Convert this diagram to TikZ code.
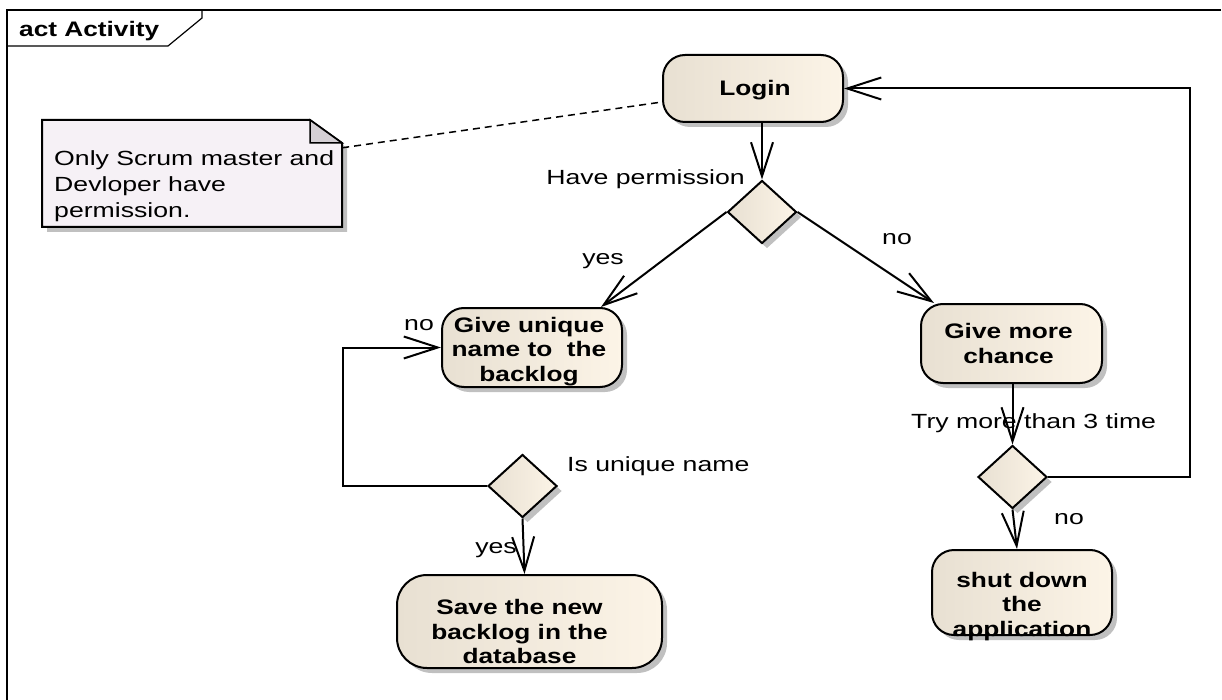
\documentclass[tikz,border=0pt]{standalone}
\usepackage{fontspec}
\setmainfont{Liberation Sans}
\newfontfamily\wfont[FakeStretch=1.25]{Liberation Sans}
\newfontfamily\lfont[FakeStretch=1.3]{Liberation Sans}
\usetikzlibrary{shapes.geometric,shadows,arrows.meta,calc}
\definecolor{gl}{RGB}{232,224,210}
\definecolor{gr}{RGB}{252,244,231}
\definecolor{shc}{RGB}{192,192,192}
\definecolor{notec}{RGB}{246,241,246}
\definecolor{foldc}{RGB}{212,207,212}
\begin{document}
\begin{tikzpicture}[x=1pt,y=-1pt,
  shad/.style={drop shadow={shadow xshift=5pt,shadow yshift=-5pt,fill=shc,opacity=1}},
  act/.style={draw, line width=2pt, rounded corners=22pt, left color=gl, right color=gr, shad, inner sep=0pt},
  dec/.style={diamond, draw, line width=2pt, left color=gl, right color=gr, shad, inner sep=0pt, minimum width=69pt, minimum height=63pt},
  ntext/.style={font=\wfont\bfseries\fontsize{21}{24.5}\selectfont, align=center, inner sep=0pt},
  lab/.style={font=\lfont\fontsize{20.5}{24}\selectfont, inner sep=0pt},
  notetext/.style={font=\lfont\fontsize{20.5}{26}\selectfont, align=left, inner sep=0pt},
  arr/.style={line width=2pt, -{Straight Barb[length=34pt,width=22pt,line width=2pt]}},
  ]
\useasboundingbox (0,0) rectangle (1222,700);
% frame
\draw[line width=1.5pt] (1221,10) -- (7,10) -- (7,700);
\draw[line width=1.2pt] (7,46) -- (168,46) -- (202,18) -- (202,10);
\node[ntext, anchor=west] (hdr) at (19,31) {act Activity};

% note
\node[minimum width=300pt, minimum height=107pt, inner sep=0pt] (note) at (192,173.5) {};
\fill[shc] (47,125) -- (315,125) -- (347,148) -- (347,232) -- (47,232) -- cycle;
\draw[line width=2pt, fill=notec] (42,120) -- (310,120) -- (342,143) -- (342,227) -- (42,227) -- cycle;
\draw[line width=1.5pt, fill=foldc] (310,120) -- (310,143) -- (342,143) -- cycle;
\node[notetext, anchor=west] (notet) at (54,186) {Only Scrum master and\\Devloper have\\permission.};

% activities
\node[act, minimum width=180pt, minimum height=67pt, label={[ntext,xshift=2pt,yshift=-2pt]center:Login}] (login) at (753,88.5) {};
\node[act, minimum width=180pt, minimum height=79pt, label={[ntext,xshift=-3pt,yshift=-4pt]center:{Give unique\\name to\ \ the\\backlog}}] (uniq) at (532,347.5) {};
\node[act, minimum width=181pt, minimum height=79pt, label={[ntext,xshift=-3pt]center:{Give more\\chance}}] (more) at (1011.5,343.5) {};
\node[act, minimum width=180pt, minimum height=85pt, label={[ntext,yshift=-14pt]center:{shut down\\the\\application}}] (shut) at (1022,592.5) {};
\node[act, rounded corners=30pt, minimum width=265pt, minimum height=93pt, label={[ntext,xshift=-10pt,yshift=-10pt]center:{Save the new\\backlog in the\\database}}] (save) at (529.5,621.5) {};

% decisions
\node[dec] (d1) at (762,212) {};
\node[dec] (d2) at (1012.5,477) {};
\node[dec] (d3) at (522.5,486) {};

% labels
\node[lab, anchor=east] (lhp) at (745,179) {Have permission};
\node[lab] (lyes1) at (603,261) {yes};
\node[lab] (lno1) at (897,239) {no};
\node[lab] (lno2) at (419,325) {no};
\node[lab, anchor=west] (liu) at (567,466) {Is unique name};
\node[lab] (lyes2) at (496,550) {yes};
\node[lab, anchor=west] (ltry) at (911,423) {Try more than 3 time};
\node[lab] (lno3) at (1069,519) {no};

% connectors
\draw[line width=1.5pt, dash pattern=on 7pt off 5pt] ($(note.north east)+(0,28)$) -- ($(login.west)+(0,13.5)$);
\draw[arr] (login.south -| d1.north) -- (d1.north);
\draw[arr] (d1.west) -- ([xshift=-22pt]uniq.north east);
\draw[arr] (d1.east) -- ([xshift=14pt]more.north west);
\draw[arr] (more.south -| d2.north) -- (d2.north);
\draw[arr] (d2.east) -- ++(142,0) |- (login.east);
\draw[arr] (d2.south) -- ([xshift=-5pt]shut.north);
\draw[arr] (d3.west) -- ++(-144,0) |- (uniq.west);
\draw[arr] (d3.south) -- ([xshift=-5pt]save.north);
\end{tikzpicture}
\end{document}
